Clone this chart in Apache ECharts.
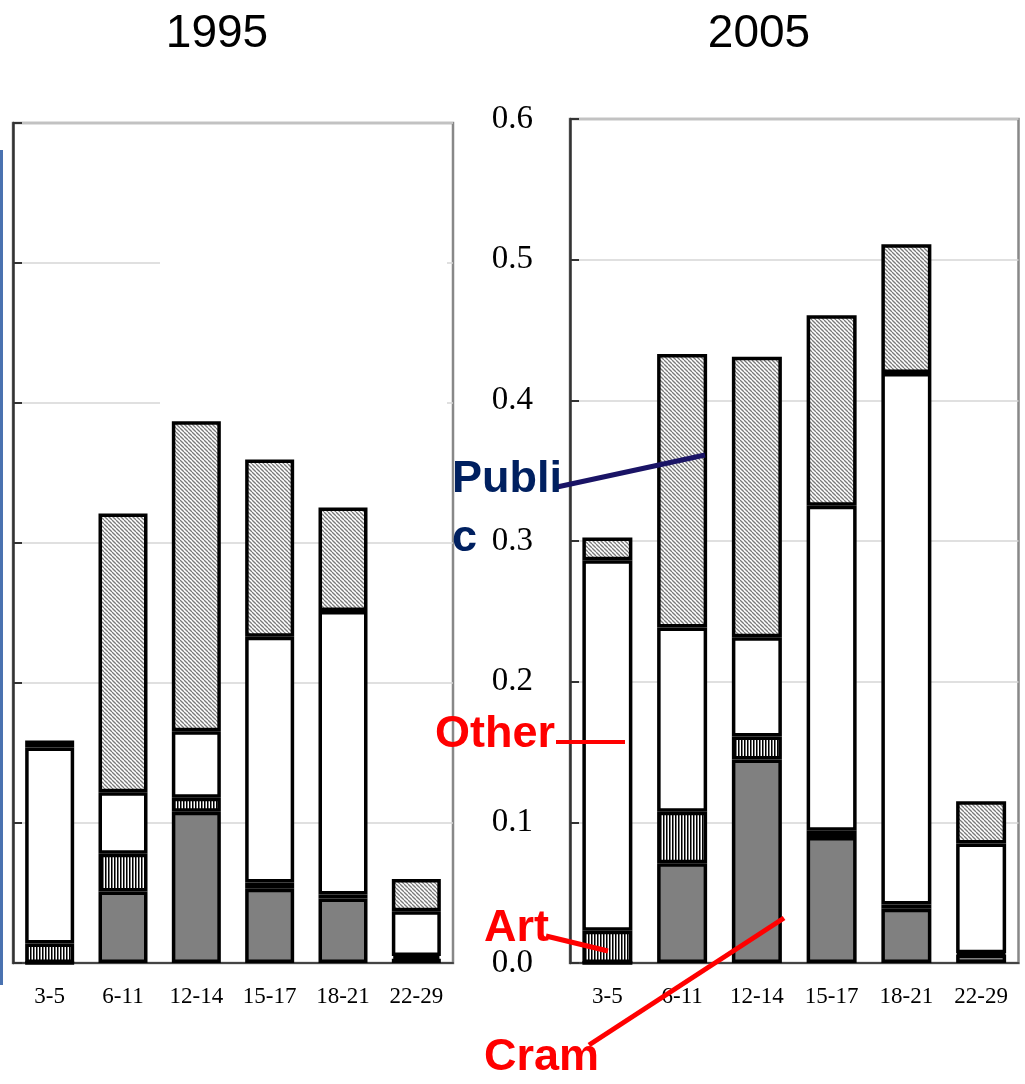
<!DOCTYPE html>
<html>
<head>
<meta charset="utf-8">
<script src="https://cdn.jsdelivr.net/npm/echarts@6/dist/echarts.min.js"></script>
<style>
  html, body { margin: 0; padding: 0; background: #fff; }
  #chart { width: 1025px; height: 1084px; }
</style>
</head>
<body>
<div id="chart"></div>
<script>
// age groups
const ages = ['3-5', '6-11', '12-14', '15-17', '18-21', '22-29'];

// 1995 shares, stacked bottom -> top
const cram95   = [0, 0.051, 0.108, 0.053, 0.046, 0.003];
const art95    = [0.014, 0.027, 0.010, 0.0045, 0.003, 0.002];
const other95  = [0.140, 0.044, 0.0475, 0.1756, 0.2024, 0.032];
const public95 = [0.005, 0.199, 0.2215, 0.1266, 0.0739, 0.023];

// 2005 shares
const cram05   = [0, 0.071, 0.1447, 0.0896, 0.0385, 0.006];
const art05    = [0.023, 0.0365, 0.0163, 0.0044, 0.003, 0.001];
const other05  = [0.2634, 0.131, 0.0706, 0.231, 0.378, 0.078];
const public05 = [0.016, 0.1945, 0.1994, 0.1354, 0.0914, 0.030];

const yTicks = [0, 0.1, 0.2, 0.3, 0.4, 0.5, 0.6];

// diagonal hatch for "Public"
function hatchPattern() {
  const s = 4;
  const c = document.createElement('canvas');
  c.width = s; c.height = s;
  const ctx = c.getContext('2d');
  ctx.fillStyle = '#fff';
  ctx.fillRect(0, 0, s, s);
  ctx.strokeStyle = '#7a7a7a';
  ctx.lineWidth = 1.3;
  for (const k of [-s, 0, s]) {
    ctx.beginPath();
    ctx.moveTo(0, k);
    ctx.lineTo(s, s + k);
    ctx.stroke();
  }
  return c;
}

// vertical stripes for "Art"
function stripePattern() {
  const c = document.createElement('canvas');
  c.width = 3; c.height = 2;
  const ctx = c.getContext('2d');
  ctx.fillStyle = '#fff'; ctx.fillRect(0, 0, 3, 2);
  ctx.fillStyle = '#000'; ctx.fillRect(0, 0, 1, 2);
  ctx.fillStyle = '#777'; ctx.fillRect(1, 0, 1, 2);
  return c;
}

const hatch = { image: hatchPattern(), repeat: 'repeat' };
const stripes = { image: stripePattern(), repeat: 'repeat' };

const fills = ['#808080', stripes, '#ffffff', hatch];
const names = ['Cram', 'Art', 'Other', 'Public'];

function makeSeries(lists, idx, stack, bw) {
  return lists.map((d, i) => ({
    name: names[i],
    type: 'bar',
    stack: stack,
    xAxisIndex: idx,
    yAxisIndex: idx,
    barWidth: bw,
    data: d,
    itemStyle: { color: fills[i], borderColor: '#000', borderWidth: 3.5 },
    emphasis: { disabled: true },
    z: 3
  }));
}

function xAx(idx) {
  return {
    type: 'category',
    gridIndex: idx,
    data: ages,
    axisLine: { lineStyle: { color: '#444', width: 2 } },
    axisTick: { inside: true, length: 7, lineStyle: { color: '#666', width: 1.5 } },
    axisLabel: { fontFamily: 'Liberation Serif', fontSize: 23, color: '#000', margin: 22 }
  };
}

function yAx(idx, showLabels) {
  return {
    type: 'value',
    gridIndex: idx,
    min: 0,
    max: 0.6,
    interval: 0.1,
    axisLine: { show: true, lineStyle: { color: '#333', width: 2.5 } },
    axisTick: { show: true, inside: true, length: 9, lineStyle: { color: '#333', width: 2 } },
    splitLine: { lineStyle: { color: '#d6d6d6', width: 1.5 } },
    axisLabel: {
      show: showLabels,
      fontFamily: 'Liberation Serif',
      fontSize: 33,
      color: '#000',
      margin: 37,
      formatter: v => yTicks.includes(Math.round(v * 10) / 10) ? v.toFixed(1) : ''
    }
  };
}

const chart = echarts.init(document.getElementById('chart'), null, { renderer: 'canvas' });

const redText = { fill: '#ff0000', font: 'bold 45px "Liberation Sans", Arial, sans-serif', textVerticalAlign: 'middle' };
const titleFont = '46px "Liberation Sans", Arial, sans-serif';

chart.setOption({
  animation: false,
  backgroundColor: '#fff',
  grid: [
    { left: 13, top: 123, width: 440, height: 840, show: true, borderColor: '#888', borderWidth: 2.5 },
    { left: 570, top: 119, width: 448.5, height: 844, show: true, borderColor: '#888', borderWidth: 2.5 }
  ],
  xAxis: [xAx(0), xAx(1)],
  yAxis: [yAx(0, false), yAx(1, true)],
  series: [
    ...makeSeries([cram95, art95, other95, public95], 0, 's95', 49),
    ...makeSeries([cram05, art05, other05, public05], 1, 's05', 50)
  ],
  graphic: [
    // panel titles
    { type: 'text', z: 50, x: 217, y: 34, style: { text: '1995', fill: '#000', font: titleFont, textAlign: 'center', textVerticalAlign: 'middle' } },
    { type: 'text', z: 50, x: 759, y: 34, style: { text: '2005', fill: '#000', font: titleFont, textAlign: 'center', textVerticalAlign: 'middle' } },
    // box in the original slide that hides part of the 1995 gridlines
    { type: 'rect', z: 1, shape: { x: 160, y: 200, width: 287, height: 260 }, style: { fill: '#fff' } },
    // blue edge of a frame at far left
    { type: 'line', z: 1, shape: { x1: 1.5, y1: 150, x2: 1.5, y2: 985 }, style: { stroke: '#4a72b0', lineWidth: 3 } },
    // annotations
    { type: 'line', z: 50, shape: { x1: 557, y1: 487, x2: 705, y2: 455 }, style: { stroke: '#1a1466', lineWidth: 5 } },
    { type: 'text', z: 50, x: 452, y: 480, style: { text: 'Publi', fill: '#002060', font: 'bold 45px "Liberation Sans", Arial, sans-serif', textVerticalAlign: 'middle' } },
    { type: 'text', z: 50, x: 452, y: 539, style: { text: 'c', fill: '#002060', font: 'bold 45px "Liberation Sans", Arial, sans-serif', textVerticalAlign: 'middle' } },
    { type: 'line', z: 50, shape: { x1: 556, y1: 742, x2: 625, y2: 742 }, style: { stroke: '#ff0000', lineWidth: 4 } },
    { type: 'text', z: 50, x: 435, y: 735, style: Object.assign({ text: 'Other' }, redText) },
    { type: 'line', z: 50, shape: { x1: 546, y1: 936, x2: 608, y2: 951 }, style: { stroke: '#ff0000', lineWidth: 5 } },
    { type: 'text', z: 50, x: 484, y: 929, style: Object.assign({ text: 'Art' }, redText) },
    { type: 'line', z: 50, shape: { x1: 589, y1: 1045, x2: 784, y2: 918 }, style: { stroke: '#ff0000', lineWidth: 5 } },
    { type: 'text', z: 50, x: 484, y: 1058, style: Object.assign({ text: 'Cram' }, redText) }
  ]
});
</script>
</body>
</html>
